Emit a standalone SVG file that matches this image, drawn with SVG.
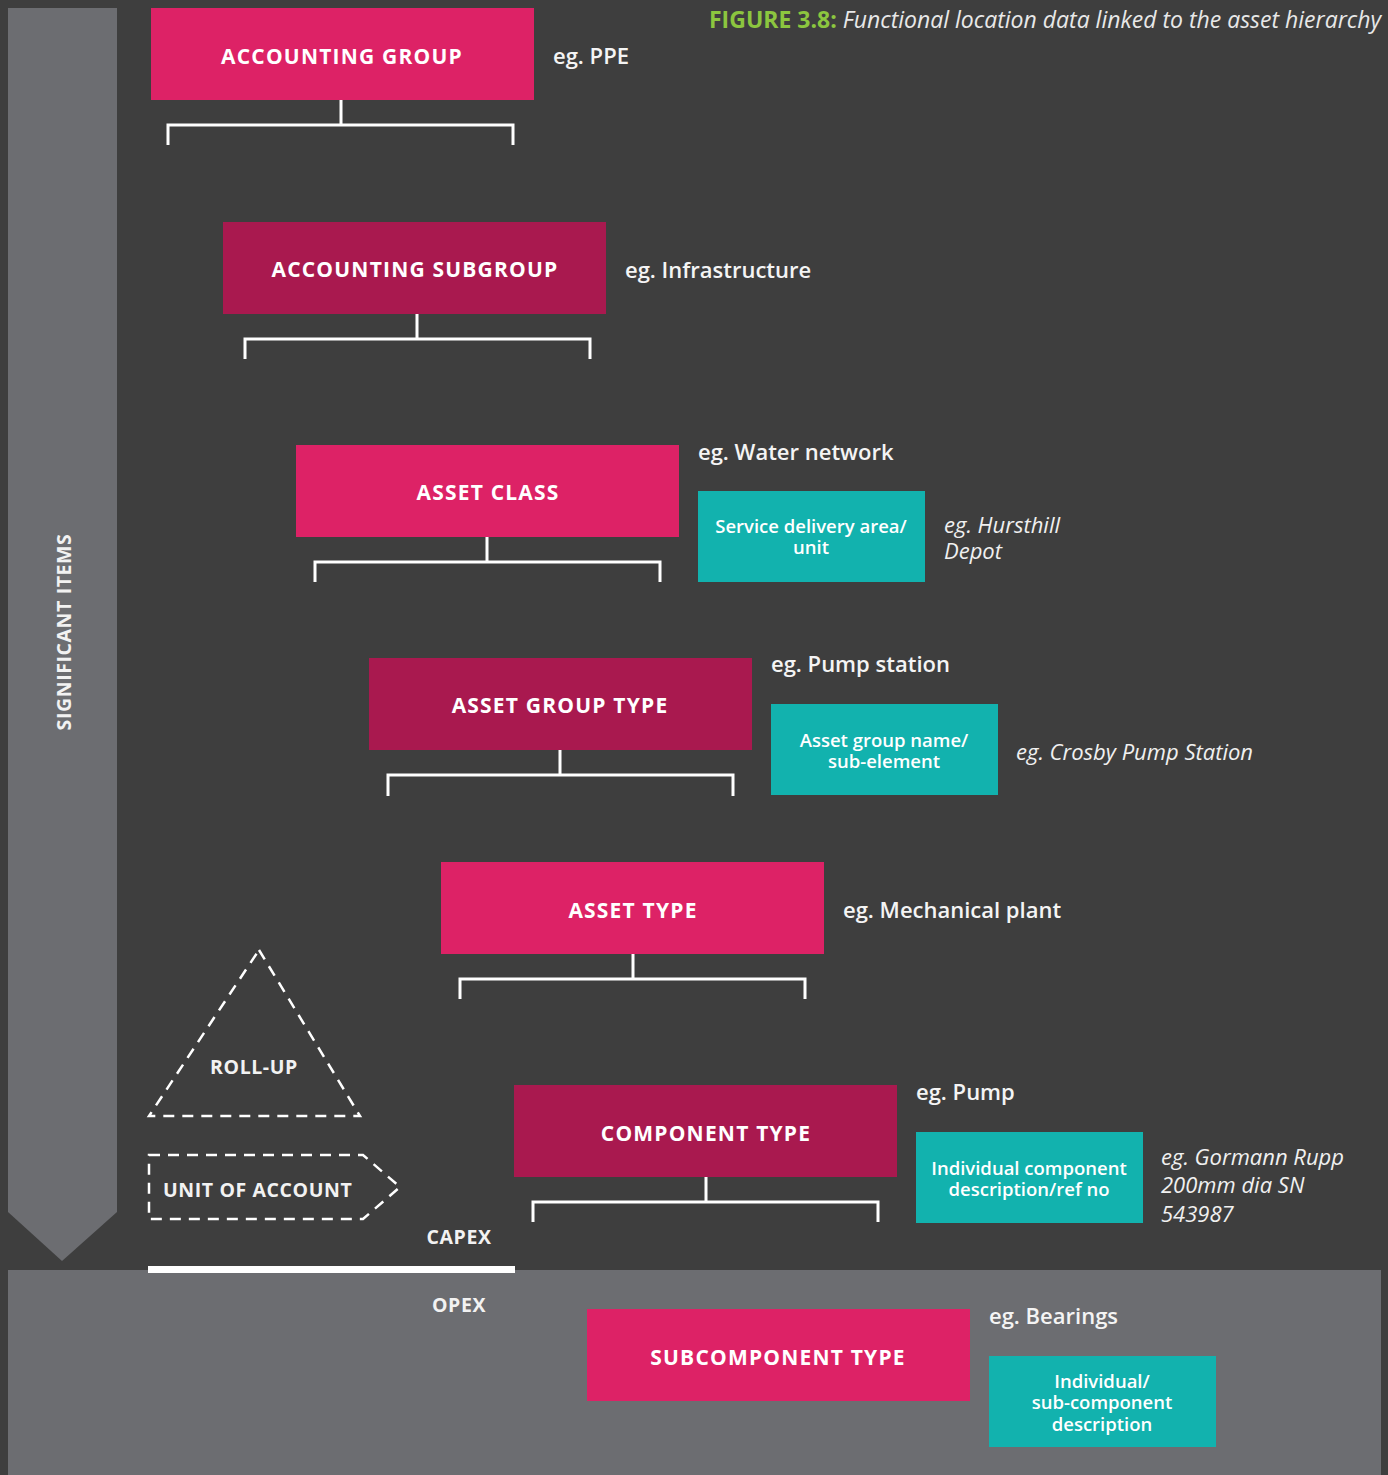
<svg xmlns="http://www.w3.org/2000/svg" width="1388" height="1475" viewBox="0 0 1388 1475">
  <style>
    .bg { fill: #3e3e3e; }
    .band { fill: #6c6d71; }
    .pink { fill: #dd2266; }
    .wine { fill: #a9194f; }
    .teal { fill: #12b2ae; }
    .lbl { font-family: "Open Sans", "Liberation Sans", sans-serif; font-weight: 700; font-size: 21px; fill: #ffffff; text-anchor: middle; letter-spacing: 1.2px; }
    .sub { font-family: "Open Sans", "Liberation Sans", sans-serif; font-weight: 600; font-size: 18.5px; fill: #ffffff; text-anchor: middle; }
    .eg { font-family: "Open Sans", "Liberation Sans", sans-serif; font-weight: 600; font-size: 22px; fill: #f4f4f4; }
    .egi { font-family: "Open Sans", "Liberation Sans", sans-serif; font-style: italic; font-size: 22px; fill: #f0f0f0; }
    .tag { font-family: "Open Sans", "Liberation Sans", sans-serif; font-weight: 700; font-size: 19.5px; fill: #f2f2f2; letter-spacing: 0.6px; }
    .bracket { fill: none; stroke: #ffffff; stroke-width: 3; }
    .dash { fill: none; stroke: #ffffff; stroke-width: 2.5; stroke-dasharray: 11 8; }
  </style>

  <rect class="bg" x="0" y="0" width="1388" height="1475"/>

  <!-- opex band -->
  <rect class="band" x="8" y="1270" width="1373" height="205"/>

  <!-- significant items arrow -->
  <g id="significant-items">
    <polygon class="band" points="8,8 117,8 117,1212 62,1261 8,1212"/>
    <text class="tag" transform="translate(71,632) rotate(-90)" text-anchor="middle" font-size="22" letter-spacing="1.5">SIGNIFICANT ITEMS</text>
  </g>

  <!-- title -->
  <text x="1381" y="28" text-anchor="end" font-family="'Open Sans', 'Liberation Sans', sans-serif" font-size="23"><tspan font-weight="700" fill="#8cc63f">FIGURE 3.8: </tspan><tspan font-style="italic" fill="#e8e8e8">Functional location data linked to the asset hierarchy</tspan></text>

  <!-- connectors -->
  <g id="connectors">
    <path class="bracket" d="M341,100 V125 M168,145 V125 H513 V145"/>
    <path class="bracket" d="M417,314 V339 M245,359 V339 H590 V359"/>
    <path class="bracket" d="M487,537 V562 M315,582 V562 H660 V582"/>
    <path class="bracket" d="M560,750 V775 M388,796 V775 H733 V796"/>
    <path class="bracket" d="M633,954 V979 M460,999 V979 H805 V999"/>
    <path class="bracket" d="M706,1177 V1202 M533,1222 V1202 H878 V1222"/>
  </g>

  <g id="accounting-group">
    <rect class="pink" x="151" y="8" width="383" height="92"/>
    <text class="lbl" x="342" y="64">ACCOUNTING GROUP</text>
    <text class="eg" x="553" y="64">eg. PPE</text>
  </g>

  <g id="accounting-subgroup">
    <rect class="wine" x="223" y="222" width="383" height="92"/>
    <text class="lbl" x="415" y="277">ACCOUNTING SUBGROUP</text>
    <text class="eg" x="625" y="278">eg. Infrastructure</text>
  </g>

  <g id="asset-class">
    <rect class="pink" x="296" y="445" width="383" height="92"/>
    <text class="lbl" x="488" y="500">ASSET CLASS</text>
    <text class="eg" x="698" y="460">eg. Water network</text>
    <rect class="teal" x="698" y="491" width="227" height="91"/>
    <text class="sub" x="811" y="533">Service delivery area/</text>
    <text class="sub" x="811" y="554">unit</text>
    <text class="egi" x="944" y="533">eg. Hursthill</text>
    <text class="egi" x="944" y="559">Depot</text>
  </g>

  <g id="asset-group-type">
    <rect class="wine" x="369" y="658" width="383" height="92"/>
    <text class="lbl" x="560" y="713">ASSET GROUP TYPE</text>
    <text class="eg" x="771" y="672">eg. Pump station</text>
    <rect class="teal" x="771" y="704" width="227" height="91"/>
    <text class="sub" x="884" y="747">Asset group name/</text>
    <text class="sub" x="884" y="768">sub-element</text>
    <text class="egi" x="1016" y="760">eg. Crosby Pump Station</text>
  </g>

  <g id="asset-type">
    <rect class="pink" x="441" y="862" width="383" height="92"/>
    <text class="lbl" x="633" y="918">ASSET TYPE</text>
    <text class="eg" x="843" y="918">eg. Mechanical plant</text>
  </g>

  <g id="component-type">
    <rect class="wine" x="514" y="1085" width="383" height="92"/>
    <text class="lbl" x="706" y="1141">COMPONENT TYPE</text>
    <text class="eg" x="916" y="1100">eg. Pump</text>
    <rect class="teal" x="916" y="1132" width="227" height="91"/>
    <text class="sub" x="1029" y="1175">Individual  component</text>
    <text class="sub" x="1029" y="1196">description/ref no</text>
    <text class="egi" x="1161" y="1165">eg. Gormann Rupp</text>
    <text class="egi" x="1161" y="1193">200mm dia SN</text>
    <text class="egi" x="1161" y="1222">543987</text>
  </g>

  <g id="subcomponent-type">
    <rect class="pink" x="587" y="1309" width="383" height="92"/>
    <text class="lbl" x="778" y="1365">SUBCOMPONENT TYPE</text>
    <text class="eg" x="989" y="1324">eg. Bearings</text>
    <rect class="teal" x="989" y="1356" width="227" height="91"/>
    <text class="sub" x="1102" y="1388">Individual/</text>
    <text class="sub" x="1102" y="1409">sub-component</text>
    <text class="sub" x="1102" y="1431">description</text>
  </g>

  <g id="roll-up">
    <polygon class="dash" points="259,950 360,1116 149,1116"/>
    <text class="tag" x="254" y="1074" text-anchor="middle">ROLL-UP</text>
  </g>

  <g id="unit-of-account">
    <polygon class="dash" points="149,1155 363,1155 400,1187 363,1219 149,1219"/>
    <text class="tag" x="163" y="1197">UNIT OF ACCOUNT</text>
  </g>

  <g id="capex-opex">
    <rect x="148" y="1266" width="367" height="7" fill="#ffffff"/>
    <text class="tag" x="459" y="1244" text-anchor="middle">CAPEX</text>
    <text class="tag" x="459" y="1312" text-anchor="middle">OPEX</text>
  </g>
</svg>
